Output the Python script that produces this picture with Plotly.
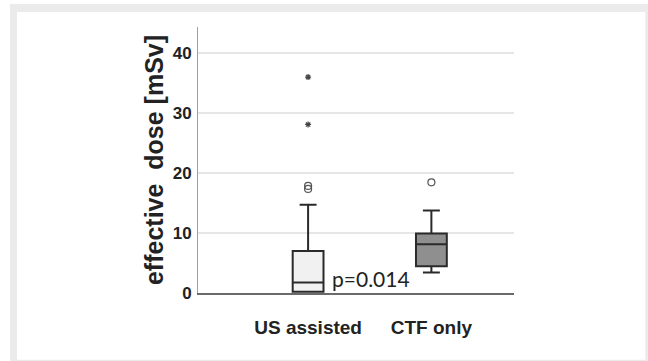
import plotly.graph_objects as go

categories = ["US assisted", "CTF only"]
q1 = [0.2, 4.46]
median = [1.73, 8.14]
q3 = [7.0, 9.92]
lower_fence = [0.2, 3.41]
upper_fence = [14.7, 13.77]
fills = ["#f1f1f1", "#8f8f8f"]

circle_out_x = ["US assisted", "US assisted", "CTF only"]
circle_out_y = [17.35, 17.85, 18.45]
star_out_x = ["US assisted", "US assisted"]
star_out_y = [28.1, 36.0]

y_ticks = [0, 10, 20, 30, 40]
y_title = "effective\u00a0 dose [mSv]\u00a0\u00a0"
p_text = "p=0.014"

W, H = 648, 361
L, R, T, B = 198, 134, 27, 68
pw, ph = W - L - R, H - T - B

fig = go.Figure()
for i, c in enumerate(categories):
    fig.add_trace(go.Box(
        x=[c], q1=[q1[i]], median=[median[i]], q3=[q3[i]],
        lowerfence=[lower_fence[i]], upperfence=[upper_fence[i]],
        fillcolor=fills[i], line=dict(color="#2a2a2a", width=2),
        width=0.25, whiskerwidth=0.55, boxpoints=False,
        showlegend=False, hoverinfo="skip", name=c))

fig.add_trace(go.Scatter(
    x=circle_out_x, y=circle_out_y, mode="markers",
    marker=dict(symbol="circle-open", size=7, color="#555555", line=dict(width=1.2)),
    showlegend=False, hoverinfo="skip"))
fig.add_trace(go.Scatter(
    x=star_out_x, y=star_out_y, mode="markers",
    marker=dict(symbol="asterisk-open", size=5, color="#444444", line=dict(width=1.2)),
    showlegend=False, hoverinfo="skip"))

def px_x(p):
    return (p - L) / pw

def px_y(p):
    return (H - B - p) / ph

fig.add_shape(type="rect", xref="paper", yref="paper",
              x0=px_x(10), x1=px_x(W + 20), y0=px_y(H + 20), y1=px_y(4),
              fillcolor="#ebebeb", line=dict(width=0), layer="below")
fig.add_shape(type="rect", xref="paper", yref="paper",
              x0=px_x(17), x1=px_x(645.3), y0=px_y(359.7), y1=px_y(12),
              fillcolor="#ffffff", line=dict(width=0), layer="below")

fig.add_annotation(x=0.178, y=2.45, xref="x", yref="y", text=p_text,
                   showarrow=False, xanchor="left", yanchor="middle",
                   font=dict(family="Lato", size=21, color="#222222"))

fig.update_layout(
    width=W, height=H, margin=dict(l=L, r=R, t=T, b=B, pad=0),
    paper_bgcolor="#ffffff", plot_bgcolor="#ffffff",
    font=dict(family="Liberation Sans, Arial", color="#222222"),
)
fig.update_xaxes(
    type="category", categoryorder="array", categoryarray=categories,
    range=[-0.893, 1.670], showgrid=False, zeroline=False,
    showline=True, linecolor="#6a6a6a", linewidth=1.5,
    ticks="", ticklabelstandoff=16,
    tickfont=dict(size=19, weight="bold", color="#222222"))
fig.update_yaxes(
    range=[0, 44.35], tickvals=y_ticks, showgrid=True,
    gridcolor="#e6e6e6", gridwidth=1.5, zeroline=False,
    showline=True, linecolor="#a0a0a0", linewidth=1,
    ticks="", ticklabelstandoff=2,
    tickfont=dict(size=17, weight="bold", color="#222222"),
    title=dict(text=y_title, standoff=1,
               font=dict(size=25, weight="bold", color="#222222")))

fig.write_html("out.html", config={"displayModeBar": False},
               post_script="document.body.style.margin='0px';document.body.style.padding='0px';")
